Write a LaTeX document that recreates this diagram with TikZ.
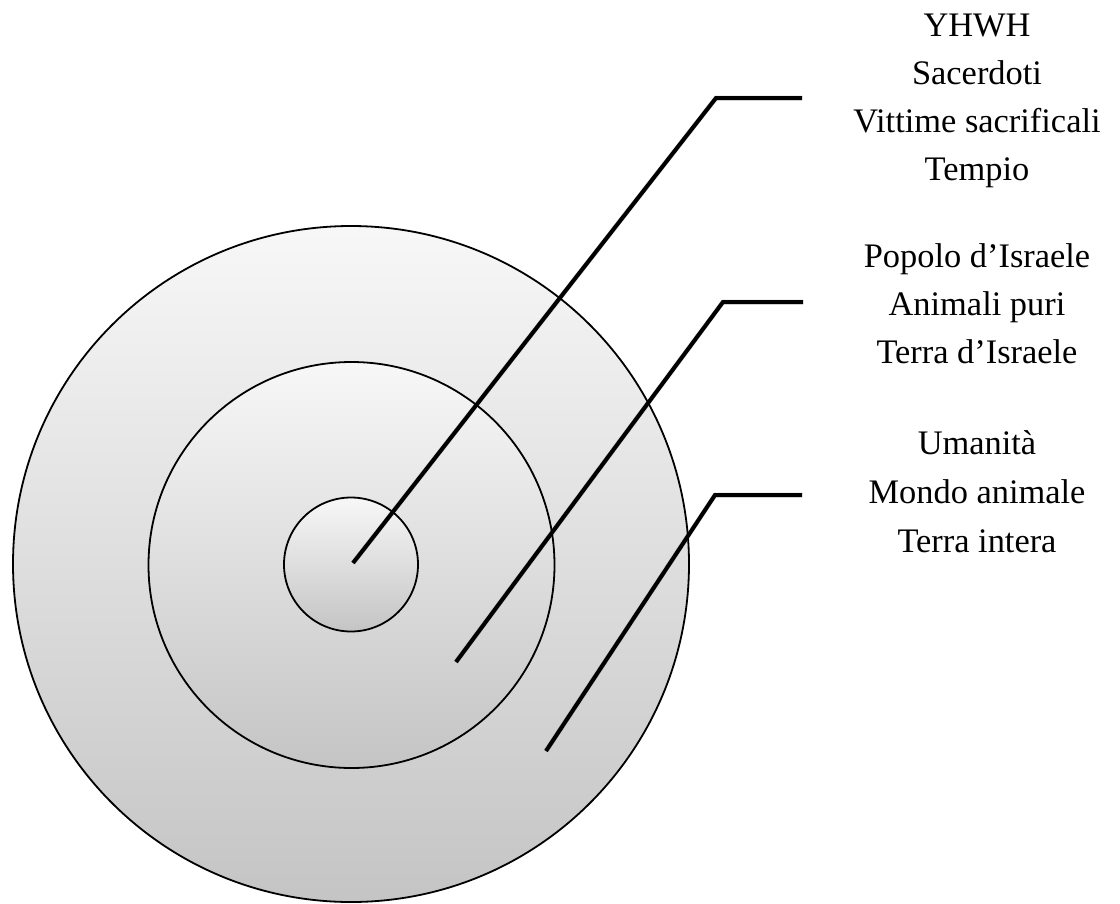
\documentclass[tikz,border=0pt]{standalone}
\usepackage{fontspec}
\setmainfont{Liberation Serif}
\begin{document}
\begin{tikzpicture}[x=1pt,y=-1pt,
  ring/.style={circle,draw=black,line width=1.8pt,inner sep=0pt,outer sep=0pt,
    top color=white!97!black,bottom color=white!77!black},
  lead/.style={draw=black,line width=4pt,line join=miter},
  leadshadow/.style={draw=black,opacity=0.18,line width=4.8pt},
  lbl/.style={anchor=base,inner sep=0pt,font=\fontsize{34.4}{40}\selectfont}]
\useasboundingbox (0,0) rectangle (1120,903);
% circles
\node[ring,minimum size=676pt] (outer) at (351,564) {};
\node[ring,minimum size=406pt] (middle) at (351.5,565) {};
\node[ring,minimum size=134pt] (inner) at (351,564.5) {};
% leader coordinates
\coordinate (a1) at (353,563);
\coordinate (b1) at (716,98);
\coordinate (c1) at (802,98);
\coordinate (a2) at (456,662);
\coordinate (b2) at (723,302);
\coordinate (c2) at (803,302);
\coordinate (a3) at (546,751);
\coordinate (b3) at (715,495);
\coordinate (c3) at (802,495);
% shadows
\begin{scope}[shift={(1.5,3)}]
\draw[leadshadow] (a1) -- (b1) -- (c1);
\draw[leadshadow] (a2) -- (b2) -- (c2);
\draw[leadshadow] (a3) -- (b3) -- (c3);
\end{scope}
\draw[lead] (a1) -- (b1) -- (c1);
\draw[lead] (a2) -- (b2) -- (c2);
\draw[lead] (a3) -- (b3) -- (c3);
% labels
\node[lbl] (t1) at (977,36) {YHWH};
\node[lbl] (t2) at (977,84) {Sacerdoti};
\node[lbl] (t3) at (977,132) {Vittime sacrificali};
\node[lbl] (t4) at (977,180) {Tempio};
\node[lbl] (t5) at (977,267) {Popolo d’Israele};
\node[lbl] (t6) at (977,315) {Animali puri};
\node[lbl] (t7) at (977,363) {Terra d’Israele};
\node[lbl] (t8) at (977,454) {Umanità};
\node[lbl] (t9) at (977,503) {Mondo animale};
\node[lbl] (t10) at (977,552) {Terra intera};
\end{tikzpicture}
\end{document}
